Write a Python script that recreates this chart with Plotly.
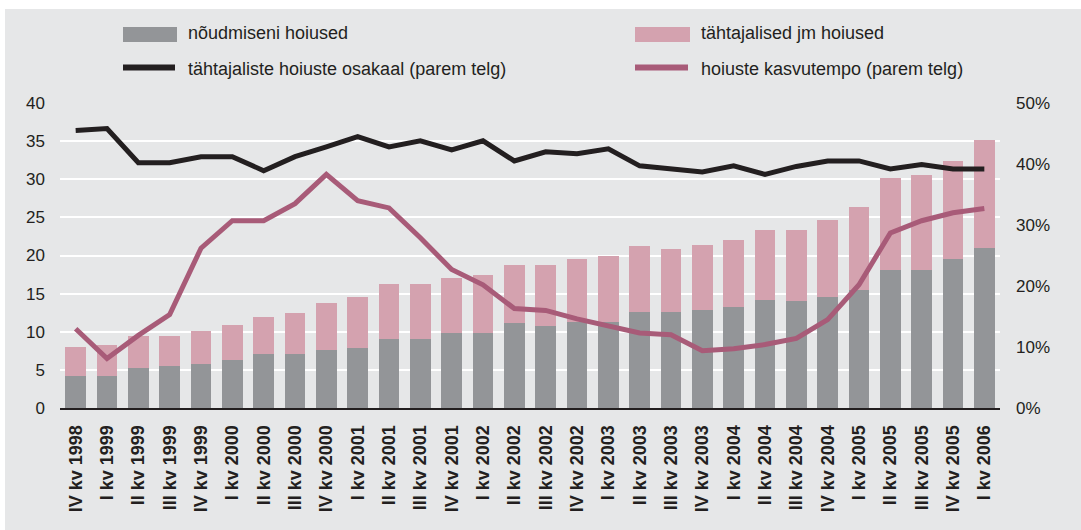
import plotly.graph_objects as go

# ---- data ----
quarters = [
    "IV kv 1998",
    "I kv 1999", "II kv 1999", "III kv 1999", "IV kv 1999",
    "I kv 2000", "II kv 2000", "III kv 2000", "IV kv 2000",
    "I kv 2001", "II kv 2001", "III kv 2001", "IV kv 2001",
    "I kv 2002", "II kv 2002", "III kv 2002", "IV kv 2002",
    "I kv 2003", "II kv 2003", "III kv 2003", "IV kv 2003",
    "I kv 2004", "II kv 2004", "III kv 2004", "IV kv 2004",
    "I kv 2005", "II kv 2005", "III kv 2005", "IV kv 2005",
    "I kv 2006",
]
noudmiseni = [4.2, 4.2, 5.3, 5.5, 5.8, 6.3, 7.1, 7.1, 7.6, 7.9,
              9.0, 9.0, 9.8, 9.8, 11.1, 10.8, 11.3, 11.3, 12.6, 12.6,
              12.9, 13.2, 14.2, 14.0, 14.5, 15.5, 18.1, 18.1, 19.5, 21.0]
tahtajalised = [3.8, 4.1, 4.1, 3.9, 4.3, 4.6, 4.9, 5.4, 6.2, 6.7,
                7.2, 7.2, 7.2, 7.7, 7.7, 8.0, 8.3, 8.6, 8.6, 8.3,
                8.5, 8.8, 9.1, 9.3, 10.1, 10.9, 12.0, 12.5, 12.9, 14.1]
osakaal = [45.5, 45.8, 40.2, 40.2, 41.2, 41.2, 38.9, 41.2, 42.8, 44.5,
           42.8, 43.8, 42.3, 43.8, 40.5, 42.0, 41.7, 42.5, 39.7, 39.1,
           38.7, 39.7, 38.3, 39.6, 40.5, 40.5, 39.2, 39.9, 39.2, 39.2]
kasvutempo = [13.0, 8.1, 11.9, 15.3, 26.2, 30.7, 30.7, 33.5, 38.3, 34.0,
              32.8, 27.9, 22.7, 20.2, 16.3, 16.0, 14.6, 13.5, 12.3, 12.0,
              9.4, 9.7, 10.4, 11.4, 14.5, 20.2, 28.7, 30.7, 32.0, 32.7]
left_ticks = [0, 5, 10, 15, 20, 25, 30, 35, 40]
right_ticks = [0, 10, 20, 30, 40, 50]
right_labels = ["0%", "10%", "20%", "30%", "40%", "50%"]
names = ["nõudmiseni hoiused", "tähtajalised jm hoiused",
         "tähtajaliste hoiuste osakaal (parem telg)",
         "hoiuste kasvutempo (parem telg)"]

# ---- style ----
GREY = "#939598"
PINK = "#D4A2AF"
BLACK = "#231F20"
MAUVE = "#A85B78"
BG = "#E6E7E8"
FONT = "Liberation Sans, Arial, sans-serif"

W, H = 1081, 530
L, R, T, B = 60, 81, 103, 122
PW, PH = W - L - R, H - T - B


def px(x):
    return (x - L) / PW


def py(y):
    return (H - B - y) / PH


fig = go.Figure()
fig.add_bar(x=quarters, y=noudmiseni, name=names[0], marker_color=GREY,
            marker_line_width=0)
fig.add_bar(x=quarters, y=tahtajalised, name=names[1], marker_color=PINK,
            marker_line_width=0)
fig.add_scatter(x=quarters, y=osakaal, name=names[2], yaxis="y2",
                mode="lines", line=dict(color=BLACK, width=5))
fig.add_scatter(x=quarters, y=kasvutempo, name=names[3], yaxis="y2",
                mode="lines", line=dict(color=MAUVE, width=5))

shapes = [
    # white strips around the grey panel
    dict(type="rect", xref="paper", yref="paper", x0=px(0), x1=px(W),
         y0=py(9), y1=py(0), fillcolor="white", line_width=0, layer="above"),
    dict(type="rect", xref="paper", yref="paper", x0=px(0), x1=px(5),
         y0=py(H), y1=py(0), fillcolor="white", line_width=0, layer="above"),
    # legend swatches
    dict(type="rect", xref="paper", yref="paper", x0=px(123), x1=px(177),
         y0=py(42), y1=py(27), fillcolor=GREY, line_width=0),
    dict(type="rect", xref="paper", yref="paper", x0=px(635), x1=px(690),
         y0=py(42), y1=py(27), fillcolor=PINK, line_width=0),
    dict(type="line", xref="paper", yref="paper", x0=px(123), x1=px(175),
         y0=py(67.5), y1=py(67.5), line=dict(color=BLACK, width=6)),
    dict(type="line", xref="paper", yref="paper", x0=px(635), x1=px(688),
         y0=py(67.5), y1=py(67.5), line=dict(color=MAUVE, width=6)),
]
annotations = []
for txt, x, y in [(names[0], 186, 33), (names[1], 699, 33),
                  (names[2], 186, 68.5), (names[3], 699, 68.5)]:
    annotations.append(dict(text=txt, xref="paper", yref="paper", x=px(x),
                            y=py(y), xanchor="left", yanchor="middle",
                            showarrow=False,
                            font=dict(size=18, color=BLACK, family=FONT)))

fig.update_layout(
    width=W, height=H,
    margin=dict(l=L, r=R, t=T, b=B, pad=0),
    paper_bgcolor=BG, plot_bgcolor=BG,
    barmode="stack", bargap=0.35,
    showlegend=False,
    font=dict(family=FONT, color=BLACK, size=17),
    shapes=shapes, annotations=annotations,
    xaxis=dict(type="category", range=[-0.5, len(quarters) - 0.5],
               showgrid=False, zeroline=False,
               showline=True, linecolor=BLACK, linewidth=2,
               ticks="", tickangle=-90, ticklabelstandoff=8,
               tickfont=dict(size=18, family=FONT, weight="bold", color=BLACK)),
    yaxis=dict(range=[0, 40], tickvals=left_ticks, showgrid=True,
               gridcolor="white", gridwidth=1.5, zeroline=False,
               ticks="", ticklabelstandoff=14,
               tickfont=dict(size=17, family=FONT, color=BLACK)),
    yaxis2=dict(range=[0, 50], tickmode="array", tickvals=right_ticks,
                ticktext=right_labels,
                overlaying="y", side="right", showgrid=False,
                zeroline=False, ticks="", ticklabelstandoff=15,
                tickfont=dict(size=17, family=FONT, color=BLACK)),
)

fig.write_html(
    "out.html",
    config={"displayModeBar": False},
    post_script="document.body.style.margin='0';"
                "document.body.style.overflow='hidden';",
)
